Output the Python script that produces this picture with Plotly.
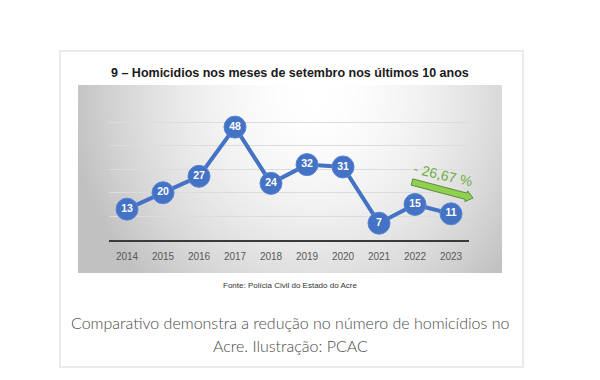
import base64, struct, zlib, math
import plotly.graph_objects as go

# ---- data ----
years = ["2014", "2015", "2016", "2017", "2018", "2019", "2020", "2021", "2022", "2023"]
homicides = [13, 20, 27, 48, 24, 32, 31, 7, 15, 11]
change_label = "- 26,67 %"
title_text = "9 – Homicidios nos meses de setembro nos últimos 10 anos"
source_text = "Fonte: Polícia Civil do Estado do Acre"
caption_lines = ["Comparativo demonstra a redução no número de homicídios no",
                 "Acre. Ilustração: PCAC"]

W, H = 600, 380

def px(x):
    return x / W

def py(y):
    return 1 - y / H

# ---- radial gradient background image (generated PNG) ----
def make_png(w, h):
    rows = []
    cx, cy = 0.56, 0.05
    for j in range(h):
        row = bytearray([0])
        for i in range(w):
            fx = (i + 0.5) / w
            fy = (j + 0.5) / h
            d = math.sqrt(((fx - cx) / 0.58) ** 2 + ((fy - cy) / 1.4) ** 2)
            d = min(d, 1.0)
            v = int(round(255 - 62 * d ** 1.8))
            row += bytes([v, v, v])
        rows.append(bytes(row))
    raw = b"".join(rows)
    def chunk(t, data):
        c = struct.pack(">I", len(data)) + t + data
        return c + struct.pack(">I", zlib.crc32(t + data) & 0xFFFFFFFF)
    png = b"\x89PNG\r\n\x1a\n"
    png += chunk(b"IHDR", struct.pack(">IIBBBBB", w, h, 8, 2, 0, 0, 0))
    png += chunk(b"IDAT", zlib.compress(raw, 9))
    png += chunk(b"IEND", b"")
    return "data:image/png;base64," + base64.b64encode(png).decode()

bg_src = make_png(106, 47)

blue = "#4472C4"

fig = go.Figure()
fig.add_trace(go.Scatter(
    x=years, y=homicides, mode="lines+markers+text",
    line=dict(color=blue, width=4),
    marker=dict(size=22, color=blue, line=dict(color="#5b86d6", width=1)),
    text=["<b>%d</b>" % v for v in homicides], textposition="middle center",
    textfont=dict(color="white", size=10.5, family="Liberation Sans"),
    hoverinfo="x+y", cliponaxis=False,
))

# ---- arrow polygon (block arrow) ----
sx, sy, ex, ey = 412, 182, 473, 198
dx, dy = ex - sx, ey - sy
L = math.hypot(dx, dy)
ux, uy = dx / L, dy / L
nx, ny = -uy, ux
sw, hw, hl = 3.2, 5.5, 7
hbx, hby = ex - hl * ux, ey - hl * uy
pts = [
    (sx + sw * nx, sy + sw * ny),
    (hbx + sw * nx, hby + sw * ny),
    (hbx + hw * nx, hby + hw * ny),
    (ex, ey),
    (hbx - hw * nx, hby - hw * ny),
    (hbx - sw * nx, hby - sw * ny),
    (sx - sw * nx, sy - sw * ny),
]
path = "M " + " L ".join(f"{px(a):.5f},{py(b):.5f}" for a, b in pts) + " Z"

shapes = [
    dict(type="rect", xref="paper", yref="paper",
         x0=px(60), x1=px(523), y0=py(367), y1=py(51),
         line=dict(color="#ebebeb", width=2), layer="below"),
    dict(type="path", xref="paper", yref="paper", path=path,
         fillcolor="#8fd14f", line=dict(color="#5a8a3a", width=1)),
]

images = [dict(source=bg_src, xref="paper", yref="paper",
               x=px(78), y=py(85), sizex=px(502) - px(78), sizey=(273 - 85) / H,
               sizing="stretch", xanchor="left", yanchor="top", layer="below")]

def ann(text, x, y, font, **kw):
    d = dict(text=text, xref="paper", yref="paper", x=px(x), y=py(y),
             xanchor="center", yanchor="middle", showarrow=False, font=font)
    d.update(kw)
    return d

annotations = [
    ann("<b>" + title_text + "</b>", 290, 73,
        dict(family="Liberation Sans", size=12.5, color="#1a1a1a")),
    ann(source_text, 290, 285,
        dict(family="Liberation Sans", size=8, color="#333333")),
    ann(caption_lines[0], 290, 322,
        dict(family="Lato", size=16, color="#4a4a4a", weight=300)),
    ann(caption_lines[1], 290, 345,
        dict(family="Lato", size=16, color="#4a4a4a", weight=300)),
    ann(change_label, 443, 175,
        dict(family="Liberation Sans", size=14, color="#6aae3e"), textangle=13),
]

fig.update_layout(
    width=W, height=H, margin=dict(l=0, r=0, t=0, b=0),
    paper_bgcolor="white", plot_bgcolor="rgba(0,0,0,0)",
    showlegend=False, shapes=shapes, images=images, annotations=annotations,
    xaxis=dict(type="category", domain=[px(109), px(469)], range=[-0.5, 9.5],
               showline=True, linecolor="#3a3a3a", linewidth=2, showgrid=False,
               ticks="", ticklabelstandoff=6, fixedrange=True,
               tickfont=dict(family="Liberation Sans", size=10, color="#595959")),
    yaxis=dict(range=[0, 60], domain=[py(239.6), py(99)], dtick=10,
               showticklabels=False, showgrid=True, gridcolor="#dcdcdc",
               gridwidth=1, zeroline=False, fixedrange=True),
)

fig.write_html("out.html", config={"displayModeBar": False},
               post_script="document.body.style.margin='0';document.body.style.padding='0';")
